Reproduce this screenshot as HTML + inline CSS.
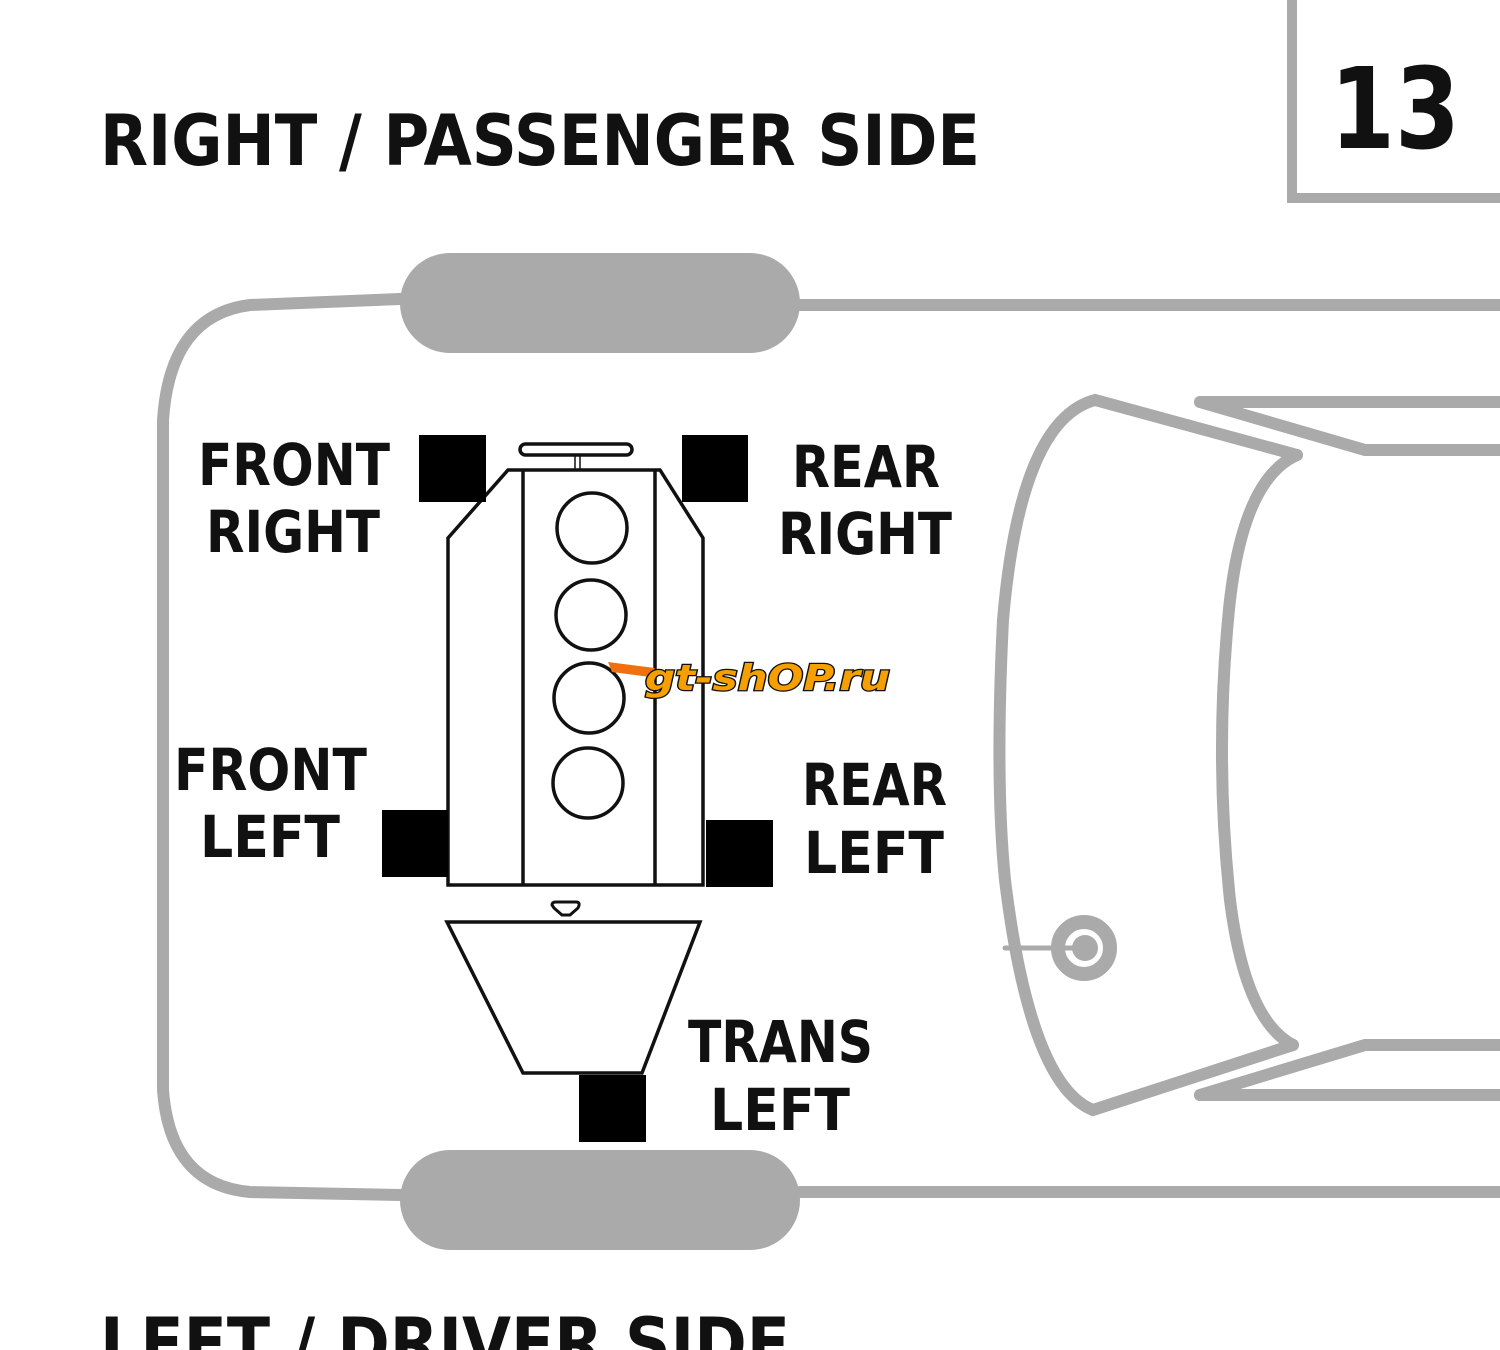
<!DOCTYPE html>
<html><head><meta charset="utf-8"><style>
html,body{margin:0;padding:0;background:#fff;}
svg{display:block;}
text{font-family:"DejaVu Sans","Liberation Sans",sans-serif;font-weight:bold;fill:#111;}
</style></head><body>
<svg width="1500" height="1350" viewBox="0 0 1500 1350" xmlns="http://www.w3.org/2000/svg">
<rect width="1500" height="1350" fill="#fff"/>
<!-- top right box -->
<path d="M1292 0 V198 H1500" fill="none" stroke="#aaa" stroke-width="10"/>
<text x="1330" y="148" font-size="112" textLength="130" lengthAdjust="spacingAndGlyphs">13</text>
<!-- titles -->
<text x="100" y="165" font-size="70" textLength="880" lengthAdjust="spacingAndGlyphs">RIGHT / PASSENGER SIDE</text>
<text x="100" y="1368" font-size="70" textLength="690" lengthAdjust="spacingAndGlyphs">LEFT / DRIVER SIDE</text>
<!-- body outline -->
<g fill="none" stroke="#aaa" stroke-width="12" stroke-linecap="round">
<path d="M400 299 L250 305 Q170 315 163 420 L163 1090 Q170 1185 250 1192 L400 1195"/>
<path d="M800 305 H1500"/>
<path d="M800 1192 H1500"/>
<path d="M1297 455 L1095 400 Q1020 420 1003 620 Q995 780 1005 880 Q1030 1085 1093 1110 L1293 1045"/>
<path d="M1297 455 Q1240 480 1228 620 Q1215 760 1230 900 Q1245 1020 1293 1045"/>
<path d="M1200 402 H1500"/>
<path d="M1200 402 L1365 450 H1500"/>
<path d="M1200 1095 H1500"/>
<path d="M1200 1095 L1365 1045 H1500"/>
<circle cx="1084" cy="948" r="26" stroke-width="14"/>
<path d="M1005 948 H1084" stroke-width="5"/>
</g>
<circle cx="1085" cy="948" r="13" fill="#aaa"/>
<!-- wheels -->
<rect x="400" y="253" width="400" height="100" rx="50" fill="#aaa"/>
<rect x="400" y="1150" width="400" height="100" rx="50" fill="#aaa"/>
<!-- engine -->
<g fill="none" stroke="#111" stroke-width="3.5">
<polygon points="508,470 660,470 703,538 703,885 448,885 448,538"/>
<line x1="523" y1="470" x2="523" y2="885"/>
<line x1="655" y1="470" x2="655" y2="885"/>
<circle cx="592" cy="528" r="35"/>
<circle cx="591" cy="615" r="35"/>
<circle cx="589" cy="698" r="35"/>
<circle cx="588" cy="783" r="35"/>
<rect x="520" y="444" width="112" height="11" rx="5.5"/>
<line x1="575" y1="455" x2="575" y2="470" stroke-width="1.5"/>
<line x1="580" y1="455" x2="580" y2="470" stroke-width="1.5"/>
<polygon points="447,922 700,922 642,1073 523,1073"/>
<path d="M552 905 Q552 902 556 902 H576 Q581 902 578 908 L570 915 H562 L554 908 Z" stroke-width="3"/>
</g>
<!-- mounts -->
<g fill="#000">
<rect x="419" y="435" width="67" height="67"/>
<rect x="682" y="435" width="66" height="67"/>
<rect x="382" y="810" width="66" height="67"/>
<rect x="706" y="820" width="67" height="67"/>
<rect x="579" y="1075" width="67" height="67"/>
</g>
<!-- labels -->
<g font-size="58">
<text x="198" y="485" textLength="192" lengthAdjust="spacingAndGlyphs">FRONT</text>
<text x="206" y="552" textLength="174" lengthAdjust="spacingAndGlyphs">RIGHT</text>
<text x="792" y="487" textLength="148" lengthAdjust="spacingAndGlyphs">REAR</text>
<text x="778" y="554" textLength="174" lengthAdjust="spacingAndGlyphs">RIGHT</text>
<text x="174" y="790" textLength="193" lengthAdjust="spacingAndGlyphs">FRONT</text>
<text x="200" y="857" textLength="140" lengthAdjust="spacingAndGlyphs">LEFT</text>
<text x="802" y="805" textLength="145" lengthAdjust="spacingAndGlyphs">REAR</text>
<text x="804" y="873" textLength="140" lengthAdjust="spacingAndGlyphs">LEFT</text>
<text x="688" y="1062" textLength="185" lengthAdjust="spacingAndGlyphs">TRANS</text>
<text x="710" y="1130" textLength="140" lengthAdjust="spacingAndGlyphs">LEFT</text>
</g>
<!-- logo -->
<path d="M608 662 L655 668 L650 677 L612 672 Z" fill="#f07010"/>
<text x="645" y="690" font-size="36" font-style="italic" textLength="245" lengthAdjust="spacingAndGlyphs" style="fill:#f5a000;stroke:#111;stroke-width:2.5;paint-order:stroke">gt-shOP.ru</text>
</svg>
</body></html>
